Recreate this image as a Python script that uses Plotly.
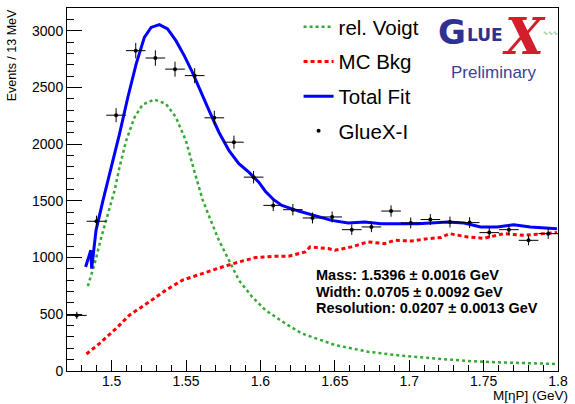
import plotly.graph_objects as go

# ---------------- data ----------------
bin_centers = [1.4766 + 0.0132 * i for i in range(25)]
counts = [490, 1320, 2255, 2824, 2759, 2661, 2604, 2232, 2017, 1709,
          1460, 1422, 1349, 1358, 1246, 1270, 1410, 1305, 1335, 1313,
          1308, 1220, 1246, 1152, 1211]
count_err = [32, 50, 62, 68, 68, 66, 66, 62, 58, 55,
             50, 50, 48, 48, 46, 46, 50, 48, 48, 48,
             48, 46, 46, 44, 46]
half_bin = 0.0066

voigt_x = [1.4840, 1.4886, 1.4931, 1.4975, 1.5020, 1.5053, 1.5098, 1.5154,
           1.5209, 1.5287, 1.5365, 1.5432, 1.5499, 1.5554, 1.5610, 1.5666,
           1.5721, 1.5788, 1.5855, 1.5944, 1.6033, 1.6167, 1.6278, 1.6501,
           1.6723, 1.6946, 1.7169, 1.7391, 1.7614, 1.7837, 1.7993]
voigt_y = [748, 947, 1181, 1387, 1592, 1797, 2032, 2237,
           2349, 2393, 2355, 2237, 2032, 1770, 1515, 1328,
           1152, 977, 801, 654, 537, 419, 331, 229,
           170, 135, 111, 88, 76, 67, 62]

bkg_x = [1.4831, 1.4920, 1.5031, 1.5120, 1.5254, 1.5365, 1.5476, 1.5610,
         1.5743, 1.5855, 1.5967, 1.6111, 1.6189, 1.6301, 1.6334, 1.6456,
         1.6501, 1.6612, 1.6723, 1.6835, 1.6902, 1.7013, 1.7124, 1.7213,
         1.7269, 1.7391, 1.7503, 1.7636, 1.7770, 1.7903, 1.7993]
bkg_y = [150, 244, 376, 493, 610, 713, 801, 860,
         917, 961, 1000, 1012, 1012, 1050, 1094, 1079,
         1064, 1094, 1138, 1123, 1152, 1146, 1167, 1176,
         1211, 1182, 1170, 1211, 1196, 1211, 1220]

fit_x = [1.4825, 1.4852, 1.4860, 1.4866, 1.4895, 1.4942, 1.4998, 1.5053,
         1.5109, 1.5165, 1.5220, 1.5265, 1.5321, 1.5376, 1.5432, 1.5488,
         1.5543, 1.5599, 1.5655, 1.5721, 1.5788, 1.5855, 1.5922, 1.5989,
         1.6033, 1.6089, 1.6144, 1.6256, 1.6367, 1.6478, 1.6590, 1.6701,
         1.6812, 1.6924, 1.7057, 1.7258, 1.7369, 1.7480, 1.7592, 1.7703,
         1.7814, 1.7993]
fit_y = [917, 1035, 1064, 903, 1240, 1504, 1797, 2091,
         2413, 2707, 2941, 3029, 3053, 3015, 2912, 2780,
         2633, 2472, 2296, 2105, 1944, 1827, 1753, 1665,
         1585, 1510, 1460, 1410, 1372, 1328, 1305, 1313,
         1299, 1299, 1299, 1313, 1305, 1270, 1270, 1290,
         1270, 1255]

x_ticks = [1.5, 1.55, 1.6, 1.65, 1.7, 1.75, 1.8]
x_tick_text = ["1.5", "1.55", "1.6", "1.65", "1.7", "1.75", "1.8"]
y_ticks = [0, 500, 1000, 1500, 2000, 2500, 3000]

fit_results = ["Mass: 1.5396 \u00b1 0.0016 GeV",
               "Width: 0.0705 \u00b1 0.0092 GeV",
               "Resolution: 0.0207 \u00b1 0.0013 GeV"]

# ---------------- geometry helpers (pixels -> paper) ----------------
W, H = 575, 404
L, R, T, B = 67, 561, 7, 371
def px(x):
    return (x - L) / (R - L)
def py(y):
    return (B - y) / (B - T)

FONT = "Liberation Sans, Arial, Helvetica, sans-serif"

fig = go.Figure()
fig.add_trace(go.Scatter(x=voigt_x, y=voigt_y, mode="lines", name="rel. Voigt",
                         legendgroup="g1",
                         line=dict(color="#33aa33", width=2.5, dash="dot")))
fig.add_trace(go.Scatter(x=bkg_x, y=bkg_y, mode="lines", name="MC Bkg",
                         legendgroup="g2",
                         line=dict(color="#ff0000", width=3, dash="4px,3px")))
fig.add_trace(go.Scatter(x=fit_x, y=fit_y, mode="lines", name="Total Fit",
                         legendgroup="g3",
                         line=dict(color="#0000ff", width=3)))
fig.add_trace(go.Scatter(x=bin_centers, y=counts, mode="markers", name="GlueX-I",
                         legendgroup="g4",
                         marker=dict(color="black", size=4),
                         error_x=dict(type="constant", value=half_bin, color="black",
                                      thickness=1, width=0),
                         error_y=dict(type="data", array=count_err, color="black",
                                      thickness=1, width=0)))

axis_common = dict(showline=True, linecolor="black", linewidth=1, mirror=True,
                   showgrid=False, zeroline=False, ticks="inside",
                   tickcolor="black", tickfont=dict(family=FONT, size=14, color="black"))

fig.update_xaxes(range=[1.47, 1.8000001], tickvals=x_ticks, ticktext=x_tick_text,
                 ticklen=11, ticklabelstandoff=-3,
                 minor=dict(ticks="inside", dtick=0.01, tick0=1.5, ticklen=6,
                            tickcolor="black"),
                 **axis_common)
fig.update_yaxes(range=[0, 3200], tickvals=y_ticks, ticklen=15,
                 minor=dict(ticks="inside", dtick=100, tick0=0, ticklen=7,
                            tickcolor="black"),
                 **axis_common)

annotations = []
# axis titles
annotations.append(dict(x=px(573), y=py(405), xref="paper", yref="paper",
                        xanchor="right", yanchor="bottom", showarrow=False,
                        text="M[\u03b7P] (GeV)", font=dict(family=FONT, size=13.5, color="black")))
annotations.append(dict(x=px(12), y=py(6), xref="paper", yref="paper",
                        xanchor="center", yanchor="top", showarrow=False, textangle=-90,
                        text="Events / 13 MeV", font=dict(family=FONT, size=12.5, color="black")))
# fit results
for txt, yy in zip(fit_results, [275, 292, 308]):
    annotations.append(dict(x=px(316), y=py(yy), xref="paper", yref="paper",
                            xanchor="left", yanchor="middle", showarrow=False,
                            text="<b>" + txt + "</b>",
                            font=dict(family=FONT, size=14.5, color="black")))
# GlueX logo
annotations.append(dict(x=px(454), y=py(31), xref="paper", yref="paper",
                        xanchor="center", yanchor="middle", showarrow=False,
                        text="<b>G</b>", font=dict(family="DejaVu Sans", size=34, color="#2e3192")))
annotations.append(dict(x=px(467), y=py(34), xref="paper", yref="paper",
                        xanchor="left", yanchor="middle", showarrow=False,
                        text="<b>LUE</b>", font=dict(family="DejaVu Sans", size=17, color="#2e3192")))
annotations.append(dict(x=px(527), y=py(36), xref="paper", yref="paper",
                        xanchor="center", yanchor="middle", showarrow=False,
                        text="<b><i>X</i></b>", font=dict(family="DejaVu Serif", size=50, color="#d21f2b")))
annotations.append(dict(x=px(553), y=py(32), xref="paper", yref="paper",
                        xanchor="center", yanchor="middle", showarrow=False,
                        text="\u223f\u223f\u223f", font=dict(family="DejaVu Sans", size=6, color="#33aa33")))
annotations.append(dict(x=px(497), y=py(72), xref="paper", yref="paper",
                        xanchor="center", yanchor="middle", showarrow=False,
                        text="Preliminary", font=dict(family=FONT, size=17, color="#3c3f98")))

fig.update_layout(
    width=W, height=H,
    margin=dict(l=L, r=W - R, t=T, b=H - B, pad=0),
    paper_bgcolor="white", plot_bgcolor="white",
    font=dict(family=FONT, color="black"),
    showlegend=True,
    legend=dict(x=px(300), y=py(6), xanchor="left", yanchor="top",
                bgcolor="rgba(0,0,0,0)", borderwidth=0,
                font=dict(family=FONT, size=20.5, color="black"),
                itemwidth=30, tracegroupgap=5),
    annotations=annotations,
)

fig.write_html("out.html")
